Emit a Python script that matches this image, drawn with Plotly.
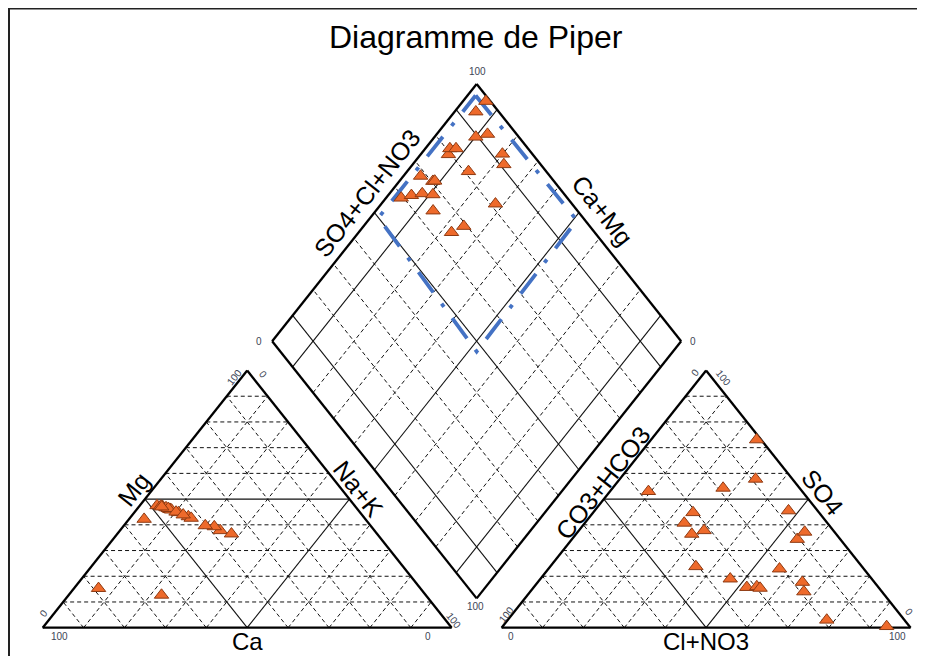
import numpy as np
import plotly.graph_objects as go

# ---------------- data (percent of meq/L) ----------------
samples = [f"E{i}" for i in range(1, 22)]
ca   = [54.1, 47.1, 42.8, 64.6, 45.9, 44.4, 48.3, 37.7, 45.8, 45.6, 46.5,
        78.7, 42.4, 35.6, 46.1, 44.9, 38.4, 40.4, 43.7, 47.5, 47.4]
mg   = [42.2, 47.2, 43.2, 12.7, 46.1, 44.8, 47.5, 37.8, 46.0, 45.8, 46.7,
        15.3, 42.6, 36.5, 46.4, 45.0, 39.3, 39.7, 43.9, 47.3, 47.0]
na_k = [3.7, 5.7, 14.0, 22.7, 8.0, 10.8, 4.2, 24.5, 8.2, 8.6, 6.8,
        6.0, 15.0, 27.9, 7.5, 10.1, 22.3, 19.9, 12.4, 5.2, 5.6]
co3_hco3 = [40.6, 37.6, 35.3, 35.0, 34.6, 32.2, 31.6, 30.8, 29.6, 29.1, 20.6,
            19.1, 19.0, 18.7, 17.6, 10.5, 9.0, 7.3, 7.1, 5.6, 1.1]
so4  = [23.8, 53.0, 36.4, 40.7, 19.0, 15.7, 37.8, 44.8, 16.0, 15.4, 22.9,
        14.0, 3.0, 54.3, 17.7, 34.4, 57.8, 37.2, 45.5, 0.5, 73.1]
cl_no3 = [35.6, 9.4, 28.3, 24.3, 46.4, 52.1, 30.6, 24.4, 54.4, 55.5, 56.5,
          66.9, 78.0, 27.0, 64.7, 55.1, 33.2, 55.5, 47.4, 93.9, 25.8]

# facies zone outlined in the diamond (SO4+Cl+NO3 %, Ca+Mg %)
zone_so4cl = [97.5, 98.0, 48.0, 50.0, 97.5]
zone_camg  = [98.0, 49.0, 48.0, 98.0, 98.0]

grid_ticks = list(range(10, 100, 10))
title_text = "Diagramme de Piper"

# ---------------- geometry ----------------
G = 0.122   # horizontal gap between the two triangles
D = 0.114   # vertical offset of diamond bottom

def tern_xy(left, top, right, x0):
    left, top, right = (np.asarray(v, float) for v in (left, top, right))
    s = left + top + right
    return x0 + (right + top / 2) / s, top / s

def cat_xy(c, m, n):
    return tern_xy(c, m, n, 0.0)

def an_xy(h, s, c):
    return tern_xy(h, s, c, 1 + G)

def dia_xy(a, c):
    a = np.asarray(a, float) / 100
    c = np.asarray(c, float) / 100
    return 1 + G / 2 + 0.5 * (a - c), D + a + c

def add_seg(store, p, q):
    store[0] += [float(p[0]), float(q[0]), None]
    store[1] += [float(p[1]), float(q[1]), None]

outline = [[], []]
solid = [[], []]
dashed = [[], []]

for f in (cat_xy, an_xy):
    v1 = f(100, 0, 0); v2 = f(0, 0, 100); v3 = f(0, 100, 0)
    add_seg(outline, v1, v2); add_seg(outline, v2, v3); add_seg(outline, v3, v1)
    for k in grid_ticks:
        tgt = solid if k == 50 else dashed
        add_seg(tgt, f(100 - k, k, 0), f(0, k, 100 - k))
        add_seg(tgt, f(100 - k, 0, k), f(0, 100 - k, k))
        add_seg(tgt, f(k, 0, 100 - k), f(k, 100 - k, 0))

db = dia_xy(0, 0); dl = dia_xy(0, 100); dr = dia_xy(100, 0); dt = dia_xy(100, 100)
for p, q in ((db, dl), (dl, dt), (dt, dr), (dr, db)):
    add_seg(outline, p, q)
for k in grid_ticks:
    tgt = solid if k in (10, 50, 90) else dashed
    add_seg(tgt, dia_xy(k, 0), dia_xy(k, 100))
    add_seg(tgt, dia_xy(0, k), dia_xy(100, k))

fig = go.Figure()
fig.add_trace(go.Scatter(x=dashed[0], y=dashed[1], mode="lines",
                         line=dict(color="#111111", width=1.0, dash="4px,3px"),
                         hoverinfo="skip", showlegend=False))
fig.add_trace(go.Scatter(x=solid[0], y=solid[1], mode="lines",
                         line=dict(color="#111111", width=1.1),
                         hoverinfo="skip", showlegend=False))
fig.add_trace(go.Scatter(x=outline[0], y=outline[1], mode="lines",
                         line=dict(color="#000000", width=2.3),
                         hoverinfo="skip", showlegend=False))

zx, zy = dia_xy(zone_so4cl, zone_camg)
fig.add_trace(go.Scatter(x=zx, y=zy, mode="lines",
                         line=dict(color="#4472C4", width=3.8, dash="25px,14px,4px,14px"),
                         hoverinfo="skip", showlegend=False))

mk = dict(symbol="triangle-up", size=12.5, color="#EE6A2B",
          line=dict(color="#8E3A12", width=1))
cx, cy = cat_xy(ca, mg, na_k)
ax_, ay_ = an_xy(co3_hco3, so4, cl_no3)
dx_, dy_ = dia_xy(np.add(so4, cl_no3), np.add(ca, mg))
for X, Y in ((cx, cy), (ax_, ay_), (dx_, dy_)):
    fig.add_trace(go.Scatter(x=X, y=Y, mode="markers", marker=mk, text=samples,
                             hoverinfo="text", showlegend=False))

# ---------------- labels ----------------
ANG = 51.7
tick_font = dict(family="Liberation Sans, Arial, sans-serif", size=10, color="#3d4656")
lab_font = dict(family="Liberation Sans, Arial, sans-serif", size=25, color="#000000")
base_font = dict(family="Liberation Sans, Arial, sans-serif", size=24, color="#000000")
ann = []

def tlab(pt, text, xs, ys, ang=0, font=tick_font):
    ann.append(dict(x=float(pt[0]), y=float(pt[1]), text=text, showarrow=False,
                    xshift=xs, yshift=ys, textangle=ang, font=font,
                    xanchor="center", yanchor="middle", borderpad=0))

# cation triangle
c_bl = cat_xy(100, 0, 0); c_br = cat_xy(0, 0, 100); c_t = cat_xy(0, 100, 0)
tlab(c_t, "100", -13, -7, -ANG)
tlab(c_t, "0", 16, -4, ANG)
tlab(c_bl, "0", 1, 14, -ANG)
tlab(c_bl, "100", 17, -9)
tlab(c_br, "0", -24, -9)
tlab(c_br, "100", 2, 7, ANG)
# anion triangle
a_bl = an_xy(100, 0, 0); a_br = an_xy(0, 0, 100); a_t = an_xy(0, 100, 0)
tlab(a_t, "0", -11, -2, -ANG)
tlab(a_t, "100", 17, -7, ANG)
tlab(a_bl, "100", 5, 13, -ANG)
tlab(a_bl, "0", 9, -9)
tlab(a_br, "100", -13, -9)
tlab(a_br, "0", -2, 16, ANG)
# diamond
tlab(dt, "100", 1, 12)
tlab(dl, "0", -13, 0)
tlab(dr, "0", 12, 0)
tlab(db, "100", -1, -8)

# axis titles
mid = lambda p, q: ((p[0] + q[0]) / 2, (p[1] + q[1]) / 2)
tlab(mid(c_bl, c_br), "Ca", 0, -14, 0, base_font)
tlab(mid(a_bl, a_br), "Cl+NO3", 0, -14, 0, base_font)
tlab(c_bl, "Mg", 91, 139, -ANG, lab_font)
tlab(c_br, "Na+K", -93, 139, ANG, lab_font)
tlab(a_bl, "CO3+HCO3", 101, 145, -ANG, lab_font)
tlab(a_br, "SO4", -88, 136, ANG, lab_font)
tlab(dl, "SO4+Cl+NO3", 95, 148, -ANG, lab_font)
tlab(dr, "Ca+Mg", -79, 131, ANG, lab_font)

# page body adds an 8px offset; figure pixel = picture pixel - 8
W, H = 917, 648
OFF = 8
ann.append(dict(xref="paper", yref="paper", x=(476 - OFF) / W, y=1 - (37 - OFF) / H,
                text=title_text, showarrow=False, xanchor="center", yanchor="middle",
                font=dict(family="Liberation Sans, Arial, sans-serif", size=32, color="#000")))

PX_X, PX_Y = 409.0, 257.2
X0, Y0 = 42.7 - OFF, 627.7 - OFF
fig.update_layout(
    width=W, height=H, autosize=False,
    margin=dict(l=0, r=0, t=0, b=0),
    paper_bgcolor="white", plot_bgcolor="white",
    xaxis=dict(range=[-X0 / PX_X, (W - X0) / PX_X], visible=False, fixedrange=True),
    yaxis=dict(range=[(Y0 - H) / PX_Y, Y0 / PX_Y], visible=False, fixedrange=True),
    annotations=ann,
    shapes=[dict(type="rect", xref="paper", yref="paper",
                 x0=1 / W, x1=1.05, y0=-0.05, y1=1 - 0.5 / H,
                 line=dict(color="#222222", width=2), fillcolor="rgba(0,0,0,0)")],
    showlegend=False,
)
fig.write_html("out.html")
